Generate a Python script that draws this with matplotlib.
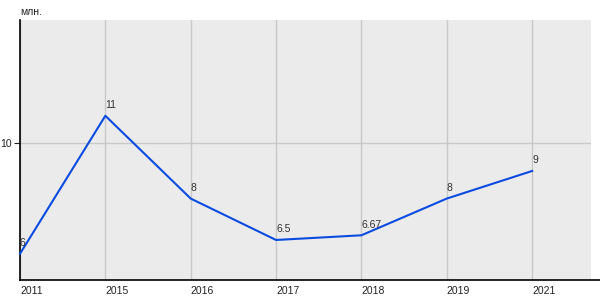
import matplotlib
matplotlib.use("Agg")
import matplotlib.pyplot as plt
from matplotlib.lines import Line2D

plt.rcParams['font.family'] = ['Liberation Sans', 'DejaVu Sans']

years = ["2011", "2015", "2016", "2017", "2018", "2019", "2021"]
values = [6, 11, 8, 6.5, 6.67, 8, 9]
labels = ["6", "11", "8", "6.5", "6.67", "8", "9"]
y_ticks = [10]
unit = "млн."

fig = plt.figure(figsize=(6, 3), dpi=100)
ax = fig.add_axes([20/600, 20/300, 571/600, 260/300])
ax.set_facecolor("#ebebeb")

x = list(range(len(years)))
ax.plot(x, values, color="#0a4be0", lw=1.5, zorder=3, clip_on=False)
for xi, v, lab in zip(x, values, labels):
    ax.annotate(lab, (xi, v), xytext=(0, 4), textcoords="offset points",
                ha="left", va="bottom", fontsize=7.5, color="#333333", zorder=4)

ax.set_xlim(0, 6.69)
ax.set_ylim(5.05, 14.47)
ax.set_xticks(x)
ax.set_xticklabels(years, ha="left", fontsize=7.5, color="#222222")
ax.set_yticks(y_ticks)
ax.set_yticklabels([str(t) for t in y_ticks], fontsize=7.5, color="#222222")
ax.tick_params(axis="x", length=0, pad=4)
ax.tick_params(axis="y", length=4, width=0.8, color="#222222", pad=2)
ax.grid(True, color="#c8c8c8", lw=1)
ax.set_axisbelow(True)
for s in ["top", "right"]:
    ax.spines[s].set_visible(False)
ax.spines["bottom"].set_visible(False)
ax.spines["left"].set_color("black")
ax.spines["left"].set_linewidth(1.2)

fig.add_artist(Line2D([20/600, 1.0], [20/300, 20/300], color="black", lw=1.2,
                      transform=fig.transFigure))
fig.text(20/600, 1 - 12/300, unit, fontsize=7.5, color="#222222", ha="left", va="center")

fig.savefig("out.png", dpi=100)
